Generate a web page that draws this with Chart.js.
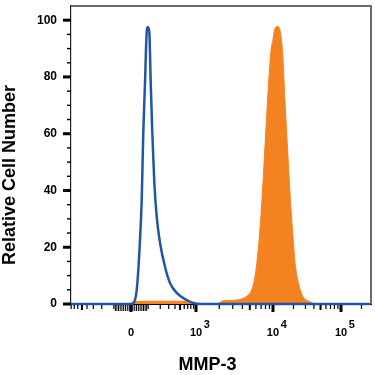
<!DOCTYPE html>
<html>
<head>
<meta charset="utf-8">
<script src="https://cdn.jsdelivr.net/npm/chart.js@4.4.1/dist/chart.umd.min.js"></script>
<style>
  body { margin: 0; background: #fff; }
</style>
</head>
<body>
<canvas id="grafik" width="375" height="375"></canvas>
<script>
// x is in display channels (0..1000) of a biexponential axis
const decadeValues = [0, 1e3, 1e4, 1e5];
const decadeChannels = [200, 416.7, 673.3, 900];
const tickBase = ['0', '10', '10', '10'];
const tickExp = ['', '3', '4', '5'];

const isotypeX = [0, 196.7, 207.7, 219, 227.7, 235.7, 241, 246.7, 252.3, 255.7, 261, 265.7, 271, 277.7, 285.7, 296.7, 313.3, 330, 352.3, 385.7, 407.7, 430, 1000];
const isotypeY = [0, 0, 0.3, 4.9, 18, 36.7, 60.4, 78, 95.8, 97.6, 95.8, 78, 60.4, 42.8, 30.7, 21.6, 13.1, 7.4, 3.9, 1.4, 0.35, 0, 0];

const mmp3X = [200, 207, 300, 390, 402, 490, 502, 541, 574, 591, 602, 613, 624, 633, 643, 652, 660, 667, 673, 677, 688, 694, 700, 706, 713, 722, 730, 739, 747, 758, 774, 797, 808, 830];
const mmp3Y = [0, 0.9, 1.0, 0.9, 0.2, 0.2, 1.0, 1.3, 2.0, 3.2, 4.9, 9.6, 19, 30.8, 48.5, 66, 80, 89.7, 93, 96, 97.8, 97.4, 94.4, 87.4, 72, 54.4, 39, 25, 14.4, 7.4, 2.5, 0.8, 0.2, 0];

const yTickValues = [0, 5, 10, 15, 20, 25, 30, 35, 40, 45, 50, 55, 60, 65, 70, 75, 80, 85, 90, 95, 100];

const fontFamily = "'Liberation Sans', Arial, sans-serif";

function rawToCh(v)
{
    const a = Math.abs(v);
    if (a <= 1000)
        return decadeChannels[0] + Math.sign(v) * (decadeChannels[1] - decadeChannels[0]) * Math.asinh(a / 125) / Math.asinh(8);
    const d = Math.log10(a);
    const i = Math.min(Math.floor(d), 4);
    const c0 = decadeChannels[i - 2], c1 = decadeChannels[i - 1];
    return c0 + (c1 - c0) * (d - i);
}

// tick list for the x axis: decades, 5x and the other minor ones
const xTickList = [];
decadeValues.forEach((v, i) => xTickList.push({ value: decadeChannels[i], kind: 'major', label: [tickExp[i] ? '       ' + tickExp[i] : '', tickBase[i]] }));
for (let e = 1; e <= 5; e++)
{
    for (let m = 1; m <= 9; m++)
    {
        const v = m * Math.pow(10, e);
        if (m === 1 && e >= 3) continue;
        const kind = e === 1 ? 'near' : (m === 5 ? 'mid' : 'minor');
        [v, -v].forEach(w =>
        {
            if (w < 0 && e > 2) return;
            const ch = rawToCh(w);
            if (ch >= 0 && ch <= 1000) xTickList.push({ value: ch, kind: kind, label: '' });
        });
    }
}
xTickList.sort((a, b) => a.value - b.value);

const tickStyle =
{
    major: { w: 3, len: 7 },
    mid: { w: 2, len: 5 },
    near: { w: 1, len: 6 },
    minor: { w: 1.2, len: 4 }
};

const framePlugin =
{
    id: 'frame',
    afterDraw(chart)
    {
        const { ctx, chartArea: a, scales: { x, y } } = chart;
        ctx.save();

        ctx.strokeStyle = '#6b6b6b';
        ctx.lineWidth = 2;
        ctx.beginPath();
        ctx.moveTo(a.left, a.top);
        ctx.lineTo(a.right, a.top);
        ctx.lineTo(a.right, a.bottom);
        ctx.stroke();

        ctx.fillStyle = '#000';
        xTickList.forEach(t =>
        {
            const px = x.getPixelForValue(t.value);
            const s = tickStyle[t.kind];
            ctx.fillRect(px - s.w / 2, a.bottom + 1, s.w, s.len);
        });
        yTickValues.forEach(v =>
        {
            const py = y.getPixelForValue(v);
            if (v % 20 === 0) ctx.fillRect(a.left - 8, py - 1.5, 8, 3);
            else ctx.fillRect(a.left - 4, py - 0.7, 4, 1.4);
        });

        ctx.font = 'bold 18px ' + fontFamily;
        ctx.textAlign = 'center';
        ctx.textBaseline = 'middle';
        ctx.fillText('MMP-3', 207.5, 365);
        ctx.translate(10, 175);
        ctx.rotate(-Math.PI / 2);
        ctx.fillText('Relative Cell Number', 0, 0);
        ctx.restore();
    }
};

const grafik = new Chart(document.getElementById('grafik'),
{
    type: 'line',
    data: {
        datasets: [
        {
            label: 'MMP-3',
            data: mmp3X.map((x, i) => ({ x: x, y: mmp3Y[i] })),
            fill: 'origin',
            backgroundColor: '#f58220',
            borderColor: '#f58220',
            borderWidth: 1,
            pointRadius: 0,
            cubicInterpolationMode: 'monotone',
            order: 2
        },
        {
            label: 'Isotype',
            data: isotypeX.map((x, i) => ({ x: x, y: isotypeY[i] })),
            fill: false,
            borderColor: '#1f57a8',
            borderWidth: 2.5,
            pointRadius: 0,
            cubicInterpolationMode: 'monotone',
            clip: false,
            order: 1
        }]
    },
    options: {
        responsive: false,
        animation: false,
        layout: { padding: { top: 6, right: 4, left: 0, bottom: 0 } },
        plugins: { legend: { display: false }, tooltip: { enabled: false } },
        scales: {
            x: {
                type: 'linear',
                min: 0,
                max: 1000,
                afterFit: s => { s.height = 71; s.paddingLeft = 0; s.paddingRight = 0; },
                afterBuildTicks: s => { s.ticks = xTickList.map(t => ({ value: t.value })); },
                grid: { display: false, drawTicks: false },
                border: { color: '#000', width: 1 },
                ticks: {
                    autoSkip: false,
                    maxRotation: 0,
                    padding: 17,
                    color: '#000',
                    font: { family: fontFamily, size: 11, weight: 'bold', lineHeight: 0.75 },
                    callback: (v, i) => xTickList[i].label
                }
            },
            y: {
                min: 0,
                max: 105,
                afterFit: s => { s.width = 71; s.paddingTop = 0; s.paddingBottom = 0; },
                afterBuildTicks: s => { s.ticks = yTickValues.map(v => ({ value: v })); },
                grid: { display: false, drawTicks: false },
                border: { color: '#222', width: 1.2 },
                ticks: {
                    padding: 14,
                    color: '#000',
                    font: { family: fontFamily, size: 12, weight: 'bold' },
                    callback: v => v % 20 === 0 ? String(v) : ''
                }
            }
        }
    },
    plugins: [framePlugin]
});
</script>
</body>
</html>
